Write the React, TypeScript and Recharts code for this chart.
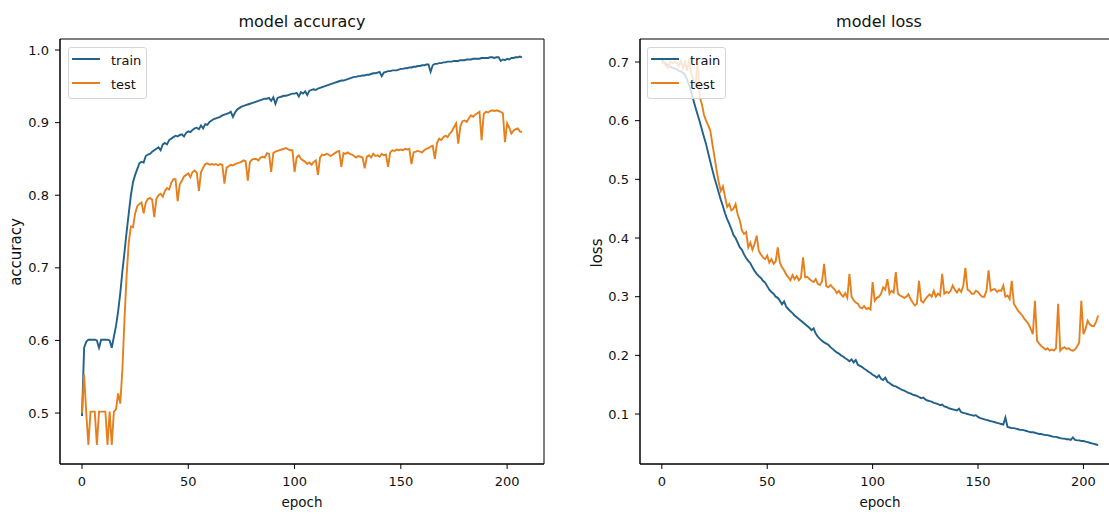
import React from 'react';
import { LineChart, Line, XAxis, YAxis, Legend, ReferenceArea } from 'recharts';

const FONT = '"DejaVu Sans", sans-serif';
const TRAIN_COLOR = '#22618a';
const TEST_COLOR = '#e5801e';
const TEXT_COLOR = '#111';

const seriesNames = ['train', 'test'];
const epochTicks = [0, 50, 100, 150, 200];
const accTicks = [0.5, 0.6, 0.7, 0.8, 0.9, 1.0];
const lossTicks = [0.1, 0.2, 0.3, 0.4, 0.5, 0.6, 0.7];
const epochDomain: [number, number] = [-10.35, 217.35];
const accDomain: [number, number] = [0.4298, 1.0152];
const lossDomain: [number, number] = [0.0148, 0.7392];

const trainAcc = [
  0.496, 0.590, 0.598, 0.601, 0.601, 0.601, 0.601, 0.600, 0.590, 0.601,
  0.601, 0.601, 0.601, 0.600, 0.590, 0.605, 0.620, 0.640, 0.665, 0.695,
  0.722, 0.750, 0.775, 0.800, 0.818, 0.828, 0.836, 0.844, 0.846, 0.845,
  0.854, 0.856, 0.857, 0.860, 0.862, 0.864, 0.866, 0.862, 0.870, 0.872,
  0.870, 0.876, 0.878, 0.880, 0.882, 0.881, 0.883, 0.884, 0.881, 0.886,
  0.888, 0.887, 0.890, 0.892, 0.893, 0.891, 0.896, 0.892, 0.898, 0.897,
  0.901, 0.903, 0.905, 0.906, 0.907, 0.908, 0.910, 0.911, 0.912, 0.913,
  0.915, 0.908, 0.914, 0.918, 0.920, 0.922, 0.923, 0.924, 0.925, 0.926,
  0.927, 0.928, 0.929, 0.930, 0.931, 0.932, 0.933, 0.933, 0.934, 0.930,
  0.935, 0.926, 0.934, 0.935, 0.936, 0.937, 0.937, 0.938, 0.939, 0.940,
  0.940, 0.941, 0.936, 0.942, 0.940, 0.943, 0.938, 0.944, 0.945, 0.946,
  0.945, 0.947, 0.948, 0.949, 0.950, 0.951, 0.952, 0.953, 0.954, 0.955,
  0.956, 0.957, 0.958, 0.958, 0.959, 0.960, 0.961, 0.962, 0.963, 0.963,
  0.964, 0.964, 0.965, 0.965, 0.966, 0.966, 0.967, 0.968, 0.968, 0.969,
  0.970, 0.964, 0.969, 0.970, 0.971, 0.971, 0.972, 0.972, 0.972, 0.973,
  0.974, 0.974, 0.975, 0.975, 0.976, 0.976, 0.977, 0.977, 0.978, 0.978,
  0.979, 0.979, 0.980, 0.980, 0.970, 0.979, 0.981, 0.981, 0.982, 0.982,
  0.983, 0.983, 0.984, 0.984, 0.984, 0.985, 0.985, 0.985, 0.986, 0.986,
  0.986, 0.987, 0.987, 0.987, 0.988, 0.988, 0.988, 0.988, 0.989, 0.989,
  0.989, 0.989, 0.990, 0.990, 0.989, 0.990, 0.990, 0.985, 0.987, 0.986,
  0.988, 0.987, 0.989, 0.989, 0.990, 0.990, 0.991, 0.990,
];

const testAcc = [
  0.500, 0.553, 0.500, 0.456, 0.502, 0.502, 0.502, 0.456, 0.502, 0.502,
  0.502, 0.502, 0.456, 0.502, 0.456, 0.502, 0.505, 0.527, 0.513, 0.560,
  0.630, 0.690, 0.735, 0.757, 0.756, 0.775, 0.785, 0.788, 0.790, 0.775,
  0.790, 0.795, 0.796, 0.794, 0.770, 0.795, 0.800, 0.802, 0.798, 0.806,
  0.810, 0.808, 0.817, 0.822, 0.822, 0.792, 0.815, 0.820, 0.826, 0.828,
  0.830, 0.825, 0.832, 0.834, 0.831, 0.806, 0.832, 0.838, 0.843, 0.844,
  0.842, 0.843, 0.842, 0.843, 0.841, 0.843, 0.842, 0.816, 0.838, 0.840,
  0.842, 0.841, 0.843, 0.844, 0.845, 0.846, 0.848, 0.847, 0.820, 0.846,
  0.849, 0.850, 0.850, 0.848, 0.852, 0.853, 0.852, 0.858, 0.857, 0.832,
  0.858, 0.860, 0.861, 0.862, 0.863, 0.864, 0.865, 0.863, 0.862, 0.862,
  0.832, 0.852, 0.855, 0.850, 0.848, 0.846, 0.843, 0.845, 0.842, 0.846,
  0.848, 0.828, 0.852, 0.856, 0.855, 0.857, 0.856, 0.854, 0.856, 0.858,
  0.860, 0.861, 0.839, 0.858, 0.857, 0.859, 0.857, 0.856, 0.854, 0.852,
  0.854, 0.853, 0.852, 0.837, 0.853, 0.855, 0.852, 0.857, 0.854, 0.855,
  0.853, 0.857, 0.855, 0.856, 0.839, 0.859, 0.862, 0.861, 0.863, 0.862,
  0.863, 0.862, 0.864, 0.863, 0.864, 0.843, 0.859, 0.860, 0.861, 0.860,
  0.859, 0.862, 0.864, 0.865, 0.867, 0.868, 0.850, 0.872, 0.878, 0.876,
  0.880, 0.882, 0.880, 0.885, 0.888, 0.894, 0.899, 0.871, 0.895, 0.902,
  0.903, 0.901, 0.906, 0.910, 0.908, 0.911, 0.913, 0.915, 0.876, 0.912,
  0.915, 0.914, 0.916, 0.917, 0.916, 0.917, 0.916, 0.915, 0.913, 0.873,
  0.899, 0.893, 0.885, 0.889, 0.891, 0.892, 0.888, 0.887,
];

const trainLoss = [
  0.703, 0.700, 0.697, 0.694, 0.692, 0.690, 0.689, 0.688, 0.685, 0.684,
  0.682, 0.678, 0.670, 0.660, 0.648, 0.635, 0.622, 0.610, 0.598, 0.585,
  0.572, 0.560, 0.545, 0.530, 0.516, 0.502, 0.490, 0.477, 0.465, 0.454,
  0.442, 0.432, 0.424, 0.415, 0.405, 0.400, 0.392, 0.384, 0.380, 0.372,
  0.366, 0.361, 0.357, 0.350, 0.344, 0.339, 0.335, 0.332, 0.327, 0.324,
  0.318, 0.312, 0.308, 0.305, 0.300, 0.298, 0.293, 0.287, 0.292, 0.283,
  0.279, 0.275, 0.272, 0.268, 0.265, 0.262, 0.259, 0.256, 0.253, 0.250,
  0.247, 0.243, 0.246, 0.237, 0.232, 0.228, 0.225, 0.222, 0.220, 0.218,
  0.214, 0.211, 0.208, 0.205, 0.203, 0.200, 0.198, 0.195, 0.193, 0.190,
  0.193, 0.188, 0.192, 0.184, 0.182, 0.180, 0.177, 0.175, 0.172, 0.170,
  0.167, 0.165, 0.162, 0.166, 0.160, 0.158, 0.162, 0.155, 0.153, 0.150,
  0.148, 0.147, 0.145, 0.143, 0.141, 0.140, 0.138, 0.136, 0.135, 0.133,
  0.132, 0.131, 0.129, 0.127, 0.128, 0.125, 0.123, 0.122, 0.121, 0.119,
  0.118, 0.117, 0.115, 0.116, 0.113, 0.112, 0.110, 0.109, 0.108, 0.107,
  0.106, 0.109, 0.103, 0.102, 0.101, 0.100, 0.099, 0.098, 0.097, 0.098,
  0.095, 0.093, 0.092, 0.091, 0.090, 0.089, 0.088, 0.087, 0.086, 0.085,
  0.084, 0.083, 0.082, 0.094, 0.078, 0.077, 0.076, 0.076, 0.075, 0.074,
  0.073, 0.073, 0.072, 0.071, 0.070, 0.069, 0.069, 0.068, 0.067, 0.066,
  0.066, 0.065, 0.064, 0.064, 0.063, 0.062, 0.061, 0.061, 0.060, 0.059,
  0.058, 0.058, 0.057, 0.057, 0.056, 0.060, 0.056, 0.055, 0.055, 0.054,
  0.054, 0.053, 0.052, 0.051, 0.050, 0.049, 0.048, 0.047,
];

const testLoss = [
  0.698, 0.700, 0.693, 0.690, 0.700, 0.698, 0.700, 0.699, 0.693, 0.701,
  0.690, 0.700, 0.685, 0.705, 0.680, 0.668, 0.660, 0.698, 0.640, 0.628,
  0.610, 0.600, 0.592, 0.583, 0.560, 0.538, 0.515, 0.495, 0.480, 0.488,
  0.470, 0.453, 0.458, 0.447, 0.450, 0.458, 0.440, 0.430, 0.413, 0.407,
  0.410, 0.384, 0.392, 0.380, 0.390, 0.404, 0.378, 0.372, 0.367, 0.364,
  0.370, 0.358, 0.364, 0.356, 0.360, 0.384, 0.358, 0.350, 0.345, 0.338,
  0.333, 0.328, 0.337, 0.330, 0.335, 0.328, 0.332, 0.367, 0.333, 0.334,
  0.330, 0.327, 0.325, 0.330, 0.322, 0.320, 0.326, 0.356, 0.318, 0.316,
  0.320, 0.316, 0.312, 0.306, 0.310, 0.304, 0.300, 0.306, 0.298, 0.339,
  0.300, 0.294, 0.290, 0.288, 0.282, 0.280, 0.284, 0.279, 0.281, 0.278,
  0.325, 0.293, 0.298, 0.300, 0.305, 0.316, 0.312, 0.330, 0.305, 0.310,
  0.307, 0.342, 0.305, 0.302, 0.300, 0.298, 0.300, 0.304, 0.296, 0.290,
  0.285, 0.288, 0.327, 0.293, 0.290, 0.296, 0.300, 0.304, 0.300, 0.310,
  0.300, 0.305, 0.302, 0.339, 0.305, 0.308, 0.306, 0.310, 0.319, 0.312,
  0.307, 0.313, 0.308, 0.318, 0.349, 0.312, 0.310, 0.305, 0.305, 0.310,
  0.308, 0.303, 0.300, 0.300, 0.310, 0.345, 0.310, 0.312, 0.313, 0.308,
  0.311, 0.310, 0.319, 0.300, 0.302, 0.296, 0.327, 0.288, 0.282, 0.276,
  0.272, 0.268, 0.262, 0.258, 0.253, 0.245, 0.236, 0.293, 0.225, 0.220,
  0.216, 0.213, 0.210, 0.212, 0.208, 0.210, 0.208, 0.212, 0.288, 0.208,
  0.212, 0.214, 0.211, 0.212, 0.209, 0.208, 0.210, 0.215, 0.222, 0.293,
  0.236, 0.245, 0.259, 0.253, 0.250, 0.250, 0.257, 0.268,
];

const epochs = trainAcc.map((_, i) => i);
const accData = epochs.map((e) => ({ epoch: e, train: trainAcc[e], test: testAcc[e] }));
const lossData = epochs.map((e) => ({ epoch: e, train: trainLoss[e], test: testLoss[e] }));

const tickStyle = { fill: TEXT_COLOR, fontSize: 13, fontFamily: FONT };
const axisLineStyle = { stroke: '#000', strokeWidth: 1 };

function LegendBox() {
  return (
    <div
      style={{
        width: 79,
        height: 52,
        boxSizing: 'border-box',
        border: '1px solid #d6d6d6',
        borderRadius: 3,
        background: 'rgba(255,255,255,0.8)',
      }}
    >
      <svg width={77} height={50} style={{ display: 'block' }}>
        <line x1={3} x2={31} y1={11} y2={11} stroke={TRAIN_COLOR} strokeWidth={2} />
        <text x={42} y={17} fontSize={13} fontFamily={FONT} fill={TEXT_COLOR}>
          {seriesNames[0]}
        </text>
        <line x1={3} x2={31} y1={35} y2={35} stroke={TEST_COLOR} strokeWidth={2} />
        <text x={42} y={41} fontSize={13} fontFamily={FONT} fill={TEXT_COLOR}>
          {seriesNames[1]}
        </text>
      </svg>
    </div>
  );
}

type PanelProps = {
  data: { epoch: number; train: number; test: number }[];
  yDomain: [number, number];
  yTicks: number[];
  yAxisWidth: number;
  marginRight: number;
  legendLeft: number;
};

function Panel({ data, yDomain, yTicks, yAxisWidth, marginRight, legendLeft }: PanelProps) {
  return (
    <LineChart
      width={560}
      height={516}
      data={data}
      margin={{ top: 39, right: marginRight, bottom: 22, left: 0 }}
    >
      <XAxis
        dataKey="epoch"
        type="number"
        domain={epochDomain}
        ticks={epochTicks}
        allowDataOverflow
        height={30}
        tickSize={5}
        tickMargin={8}
        tick={tickStyle}
        axisLine={axisLineStyle}
        tickLine={axisLineStyle}
      />
      <YAxis
        type="number"
        domain={yDomain}
        ticks={yTicks}
        allowDataOverflow
        width={yAxisWidth}
        tickSize={5}
        tickMargin={6}
        tick={tickStyle}
        tickFormatter={(v: number) => v.toFixed(1)}
        axisLine={axisLineStyle}
        tickLine={axisLineStyle}
      />
      <ReferenceArea
        x1={epochDomain[0]}
        x2={epochDomain[1]}
        y1={yDomain[0]}
        y2={yDomain[1]}
        fill="none"
        fillOpacity={0}
        stroke="#000"
        strokeWidth={1}
        ifOverflow="visible"
      />
      <Line
        type="linear"
        dataKey="train"
        name={seriesNames[0]}
        stroke={TRAIN_COLOR}
        strokeWidth={1.9}
        dot={false}
        activeDot={false}
        isAnimationActive={false}
      />
      <Line
        type="linear"
        dataKey="test"
        name={seriesNames[1]}
        stroke={TEST_COLOR}
        strokeWidth={1.9}
        dot={false}
        activeDot={false}
        isAnimationActive={false}
      />
      <Legend
        layout="horizontal"
        align="center"
        verticalAlign="middle"
        content={() => <LegendBox />}
        wrapperStyle={{ left: legendLeft, top: 47, width: 79, height: 52 }}
      />
    </LineChart>
  );
}

export default function App() {
  return (
    <div
      style={{
        position: 'fixed',
        left: 0,
        top: 0,
        width: 1109,
        height: 516,
        overflow: 'hidden',
        background: '#fff',
        fontFamily: FONT,
      }}
    >
      <div style={{ position: 'absolute', left: 0, top: 0 }}>
        <Panel data={accData} yDomain={accDomain} yTicks={accTicks} yAxisWidth={60} marginRight={16} legendLeft={68} />
      </div>
      <div style={{ position: 'absolute', left: 560, top: 0 }}>
        <Panel data={lossData} yDomain={lossDomain} yTicks={lossTicks} yAxisWidth={80} marginRight={0} legendLeft={87} />
      </div>
      <svg
        width={1109}
        height={516}
        style={{ position: 'absolute', left: 0, top: 0, pointerEvents: 'none' }}
        fontFamily={FONT}
        fill={TEXT_COLOR}
      >
        <text x={302} y={27} fontSize={16} textAnchor="middle">model accuracy</text>
        <text x={879} y={27} fontSize={16} textAnchor="middle">model loss</text>
        <text x={302} y={507} fontSize={13.5} textAnchor="middle">epoch</text>
        <text x={880} y={507} fontSize={13.5} textAnchor="middle">epoch</text>
        <text x={21} y={252} fontSize={15} textAnchor="middle" transform="rotate(-90 21 252)">accuracy</text>
        <text x={602} y={253} fontSize={15} textAnchor="middle" transform="rotate(-90 602 253)">loss</text>
      </svg>
    </div>
  );
}
